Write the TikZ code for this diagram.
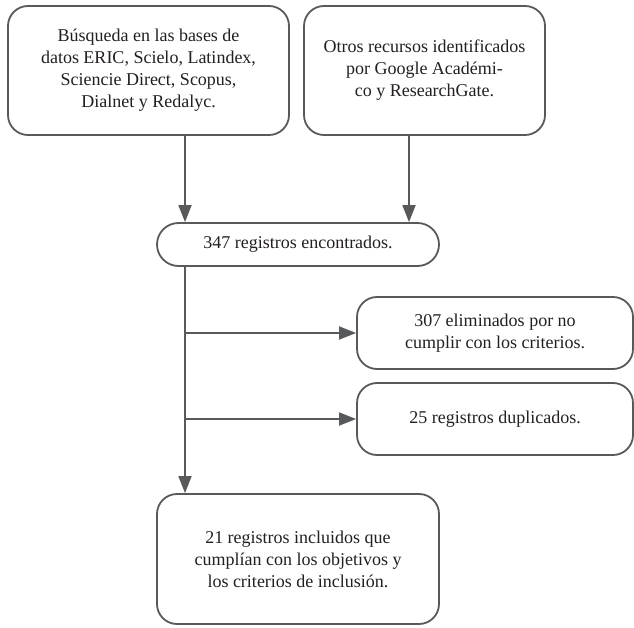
\documentclass[tikz,border=0pt]{standalone}
\usepackage{fontspec}
\setmainfont{Liberation Serif}
\usepackage{tikz}
\usetikzlibrary{arrows.meta,shapes.misc}

\definecolor{linegray}{HTML}{58595B}
\definecolor{textgray}{HTML}{231F20}

\tikzset{
  box/.style={draw=linegray, line width=1.8pt, rounded corners=20pt, align=center,
    text=textgray, font=\fontsize{18}{22}\selectfont, inner sep=0pt},
  pill/.style={box, rounded corners=0pt, rounded rectangle},
  arr/.style={draw=linegray, line width=1.8pt, -{Triangle[length=17pt,width=13pt]}}
}

\begin{document}
\begin{tikzpicture}[x=1pt,y=-1pt]
                        \useasboundingbox (0,0) rectangle (634,628);

                        \node[box, minimum width=281, minimum height=129] (bases) at (148.5,70.5)
                        {B\'usqueda en las bases de\\datos ERIC, Scielo, Latindex,\\Sciencie Direct, Scopus,\\Dialnet y Redalyc.};
                        \node[box, minimum width=241, minimum height=129] (otros) at (424.5,70.5)
                        {Otros recursos identificados\\por Google Acad\'emi-\\co y ResearchGate.};
                        \node[pill, minimum width=282, minimum height=43] (encontrados) at (298,244.5)
                        {347 registros encontrados.};
                        \node[box, minimum width=276, minimum height=72] (eliminados) at (495,333)
                        {307 eliminados por no\\cumplir con los criterios.};
                        \node[box, minimum width=276, minimum height=72] (duplicados) at (495,419)
                        {25 registros duplicados.};
                        \node[box, minimum width=282, minimum height=130] (incluidos) at (298,559)
                        {21 registros incluidos que\\cumpl\'ian con los objetivos y\\los criterios de inclusi\'on.};

                        \coordinate (tronco) at ([xshift=-113]encontrados.south);

                        \path	([xshift=36.5]bases.south)	edge[arr]	([xshift=-113]encontrados.north)
                        ([xshift=-15.5]otros.south)	edge[arr]	([xshift=111]encontrados.north)
                        (tronco)	edge[arr]	([xshift=-113]incluidos.north)
                        (eliminados.west -| tronco)	edge[arr]	(eliminados.west)
                        (duplicados.west -| tronco)	edge[arr]	(duplicados.west);
                    \end{tikzpicture}
\end{document}
